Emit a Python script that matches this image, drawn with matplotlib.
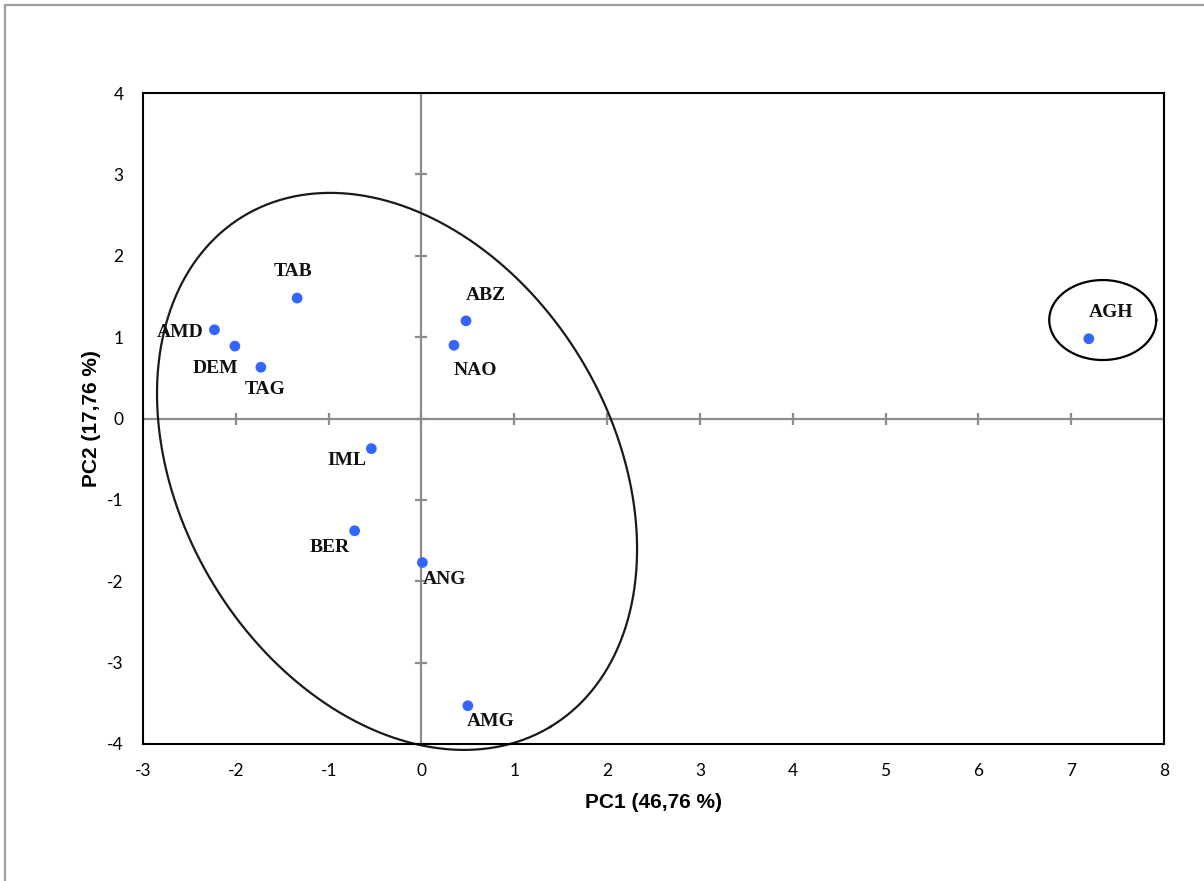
import numpy as np
import matplotlib
matplotlib.use("Agg")
import matplotlib.pyplot as plt
from matplotlib.lines import Line2D

plt.rcParams["axes.unicode_minus"] = False

# ---- data ----
labels = ["TAB", "ABZ", "AMD", "DEM", "NAO", "TAG", "AGH", "IML", "BER", "ANG", "AMG"]
pc1 = [-1.34, 0.48, -2.23, -2.01, 0.35, -1.73, 7.19, -0.54, -0.72, 0.01, 0.50]
pc2 = [1.48, 1.20, 1.09, 0.89, 0.90, 0.63, 0.98, -0.37, -1.38, -1.77, -3.53]
# label offsets in pixels (dx, dy) relative to point
label_offsets = [(-4, 27), (20, 25), (-34, -3), (-19, -22), (21, -25), (4, -22),
                 (22, 26), (-24, -12), (-25, -17), (22, -17), (23, -16)]
x_ticks = list(range(-3, 9))
y_ticks = list(range(-4, 5))
x_title = "PC1 (46,76 %)"
y_title = "PC2 (17,76 %)"

W, H = 1204, 881
fig = plt.figure(figsize=(W / 100, H / 100), dpi=100)
ax = fig.add_axes([143 / W, 1 - 744 / H, (1164 - 143) / W, (744 - 93) / H])
ax.set_xlim(-3, 8)
ax.set_ylim(-4, 4)

# frame
for s in ax.spines.values():
    s.set_linewidth(1.5)
    s.set_color("black")
ax.set_xticks(x_ticks)
ax.set_yticks(y_ticks)
ax.tick_params(length=0, labelsize=12.5)
for t in ax.get_xticklabels() + ax.get_yticklabels():
    t.set_fontfamily("Lato")
ax.tick_params(axis="x", pad=14)
ax.tick_params(axis="y", pad=14)

# zero axes with cross ticks
gray = "#8c8c8c"
ax.axhline(0, color=gray, lw=1.6, zorder=1)
ax.axvline(0, color=gray, lw=1.6, zorder=1)
ax.plot(x_ticks, [0] * len(x_ticks), ls="none", marker="|", ms=8, mew=1.6, color=gray, zorder=1)
ax.plot([0] * len(y_ticks), y_ticks, ls="none", marker="_", ms=8, mew=1.6, color=gray, zorder=1)

# big ellipse (defined in pixel units, converted to data)
sx = (1164 - 143) / 11.0
sy = (744 - 93) / 8.0
t = np.linspace(0, 2 * np.pi, 400)
a, b, th = 297.9, 215.5, np.deg2rad(-59.07)
ex = a * np.cos(t) * np.cos(th) - b * np.sin(t) * np.sin(th)
ey = a * np.cos(t) * np.sin(th) + b * np.sin(t) * np.cos(th)
ax.plot(-0.263 + ex / sx, -0.65 + ey / sy, color="#1a1a1a", lw=1.6, zorder=2, clip_on=False)

# small ellipse around AGH
ax.plot(7.34 + 53.5 / sx * np.cos(t), 1.21 + 40 / sy * np.sin(t), color="black", lw=1.6, zorder=2)

# points
ax.scatter(pc1, pc2, s=60, color="#3366ff", zorder=3, edgecolors="none")
for lab, x, y, (dx, dy) in zip(labels, pc1, pc2, label_offsets):
    ax.annotate(lab, (x, y), xytext=(dx, dy), textcoords="offset pixels",
                ha="center", va="center", fontsize=14, fontweight="bold",
                family="Liberation Serif", color="#111111", zorder=4)

ax.set_xlabel(x_title, fontsize=15, fontweight="bold", family="Liberation Sans", labelpad=10)
ax.set_ylabel(y_title, fontsize=15, fontweight="bold", family="Liberation Sans", labelpad=4)

# outer chart border (gray)
fig.add_artist(Line2D([5 / W, 1], [1 - 5 / H, 1 - 5 / H], color="#a0a0a0", lw=1.6))
fig.add_artist(Line2D([5 / W, 5 / W], [0, 1 - 5 / H], color="#a0a0a0", lw=1.6))

fig.savefig("out.png", dpi=100, facecolor="white")
